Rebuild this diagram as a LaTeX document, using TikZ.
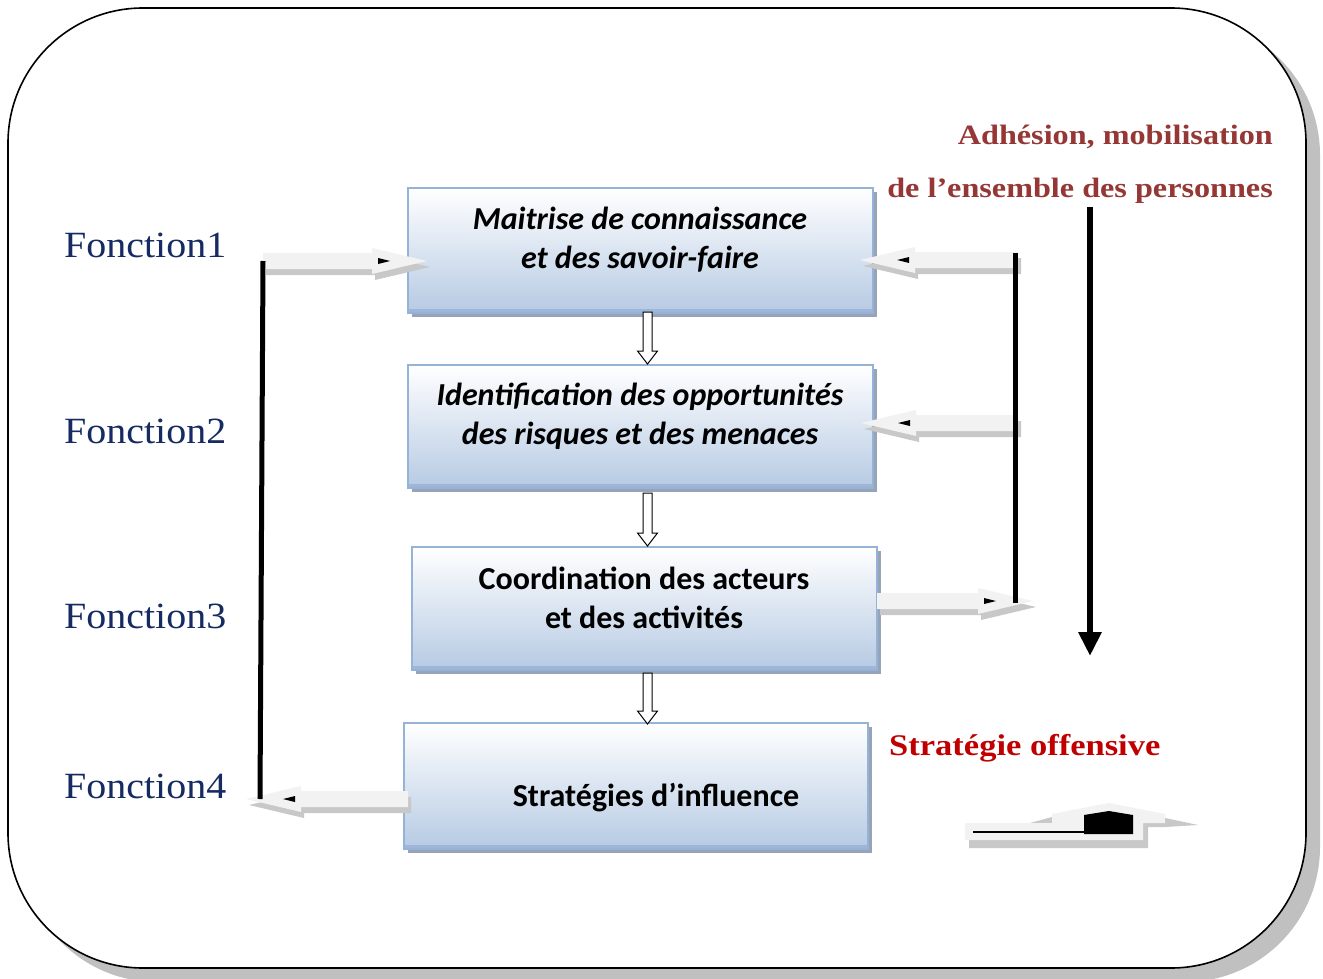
\documentclass[tikz,border=0pt]{standalone}
\usepackage{fontspec}
\setmainfont{Liberation Serif}
\newfontfamily\labelfont[FakeStretch=1.08]{Liberation Serif}
\newfontfamily\redfont[FakeStretch=1.15]{Liberation Serif}
\newfontfamily\boxfont{Carlito}
\usetikzlibrary{arrows.meta,calc,shadows}

\definecolor{framegray}{HTML}{C0C0C0}
\definecolor{fnblue}{HTML}{152B62}
\definecolor{adhred}{HTML}{953735}
\definecolor{offred}{HTML}{C00000}
\definecolor{boxedge}{HTML}{95B3D7}
\definecolor{boxbot}{HTML}{B6CAE3}
\definecolor{boxstrip}{HTML}{9DB6D9}
\definecolor{boxshadow}{HTML}{97A3B6}
\definecolor{arrowfill}{HTML}{F2F2F2}
\definecolor{arrowshadow}{HTML}{C8C8C8}

% grey 3D block arrow: #1 tail, #2 tip, #3 direction (1 right, -1 left), #4 style, #5/#6 offset
\newcommand\blkshape[6]{%
  \path[#4] let \p1=(#1), \p2=(#2) in
    ({\x1+#5},{\y1+8pt+#6}) -- ({\x2-#3*55pt+#5},{\y1+8pt+#6}) --
    ({\x2-#3*55pt+#5},{\y1+13pt+#6}) -- ({\x2+#5},{\y1+#6}) --
    ({\x2-#3*55pt+#5},{\y1-13pt+#6}) -- ({\x2-#3*55pt+#5},{\y1-8pt+#6}) --
    ({\x1+#5},{\y1-8pt+#6}) -- cycle;}
\newcommand\blkarrow[3]{%
  \blkshape{#1}{#2}{#3}{fill=arrowshadow}{3pt}{-6pt}%
  \blkshape{#1}{#2}{#3}{fill=arrowfill}{0pt}{0pt}%
  \fill let \p1=(#1), \p2=(#2) in
    ({\x2-#3*37pt},{\y1}) -- ({\x2-#3*49pt},{\y1+3pt}) -- ({\x2-#3*49pt},{\y1-3pt}) -- cycle;}
% hollow downward arrow between two boxes
\newcommand\hollowdown[2]{%
  \draw[line width=1pt, fill=white] let \p1=(#1), \p2=(#2) in
    ({\x1-4.5pt},{\y1}) -- ({\x1+4.5pt},{\y1}) -- ({\x1+4.5pt},{\y2+13pt}) --
    ({\x1+10pt},{\y2+13pt}) -- ({\x2},{\y2}) -- ({\x1-10pt},{\y2+13pt}) --
    ({\x1-4.5pt},{\y2+13pt}) -- cycle;}

\tikzset{
  fbox/.style={draw=boxedge, line width=1.6pt, top color=white, bottom color=boxbot,
    minimum width=465pt, inner sep=0pt,
    drop shadow={shadow xshift=4pt, shadow yshift=-4pt, fill=boxshadow, opacity=1},
    path picture={\fill[boxstrip] (path picture bounding box.south west) rectangle
      ([yshift=4pt]path picture bounding box.south east);}},
  boxtxt/.style={font=\boxfont\bfseries\fontsize{32}{39}\selectfont, align=center, inner sep=0pt},
  fnlabel/.style={font=\labelfont\fontsize{37}{40}\selectfont, text=fnblue, inner sep=0pt, anchor=base west},
  redtxt/.style={font=\redfont\bfseries\fontsize{28}{32}\selectfont, text=adhred, inner sep=0pt},
  blackline/.style={line width=5pt},
}

\begin{document}
\begin{tikzpicture}[x=1pt,y=-1pt]
\useasboundingbox (0,0) rectangle (1323,979);

% rounded frame with its shadow
\fill[framegray, rounded corners=135pt] (22,20) rectangle (1320,982);
\draw[line width=1.6pt, fill=white, rounded corners=135pt] (8,8) rectangle (1306,968);

% function boxes
\node[fbox, minimum height=125pt] (b1) at (640.5,250.5) {};
\node[fbox, minimum height=123pt] (b2) at (640.5,426.5) {};
\node[fbox, minimum height=123pt] (b3) at (644.5,608.5) {};
\node[fbox, minimum height=126pt, minimum width=464pt] (b4) at (636,786) {};

\node[boxtxt] (t1) at (640,240) {\itshape Maitrise de connaissance\\\itshape et des savoir-faire};
\node[boxtxt] (t2) at (640,416) {\itshape Identification des opportunités\\\itshape des risques et des menaces};
\node[boxtxt] (t3) at (644,598) {Coordination des acteurs\\et des activités};
\node[boxtxt, anchor=base] (t4) at (656,806) {Stratégies d’influence};

% hollow arrows linking the boxes
\coordinate (h1a) at (647.5,312); \coordinate (h1b) at (647.5,364);
\coordinate (h2a) at (647.5,493); \coordinate (h2b) at (647.5,546);
\coordinate (h3a) at (647.5,673); \coordinate (h3b) at (647.5,724);
\hollowdown{h1a}{h1b}
\hollowdown{h2a}{h2b}
\hollowdown{h3a}{h3b}

% feedback loops
\coordinate (lt) at (263,261);  \coordinate (lb) at (260,799);
\coordinate (rt) at (1015,253); \coordinate (rb) at (1015,603);
\coordinate (a1s) at (263,261);  \coordinate (a1e) at (427,261);
\coordinate (a2s) at (1018,260); \coordinate (a2e) at (860,260);
\coordinate (a3s) at (1018,423); \coordinate (a3e) at (861,423);
\coordinate (a4s) at (877,601);  \coordinate (a4e) at (1033,601);
\coordinate (a5s) at (408,799);  \coordinate (a5e) at (246,799);
\blkarrow{a1s}{a1e}{1}
\blkarrow{a2s}{a2e}{-1}
\blkarrow{a3s}{a3e}{-1}
\blkarrow{a4s}{a4e}{1}
\blkarrow{a5s}{a5e}{-1}
\draw[blackline] (lt) -- (lb);
\draw[blackline] (rt) -- (rb);

% labels
\node[fnlabel] (f1) at (64,257) {Fonction1};
\node[fnlabel] (f2) at (64,443) {Fonction2};
\node[fnlabel] (f3) at (64,628) {Fonction3};
\node[fnlabel] (f4) at (64,798) {Fonction4};

\node[redtxt, anchor=base east] (r1) at (1273,145) {Adhésion, mobilisation};
\node[redtxt, anchor=base east] (r2) at (1273,197) {de l’ensemble des personnes};
\node[redtxt, anchor=base west, text=offred, font=\redfont\bfseries\fontsize{30}{34}\selectfont] (r3) at (889,755) {Stratégie offensive};

% downward arrow
\coordinate (bt) at (1090,207); \coordinate (bb) at (1090,656);
\draw[line width=6pt, -{Triangle[length=24pt,width=22pt]}] (bt) -- (bb);

% small offensive symbol
\fill[arrowshadow] (1030,823) -- (1052,817) -- (1109,806) -- (1198,825) -- (1165,827)
  -- (1148,827) -- (1148,848) -- (969,848) -- (969,830) -- cycle;
\fill[arrowfill] (965,823) -- (1052,823) -- (1052,814) -- (1109,803) -- (1165,814)
  -- (1165,823) -- (1143,823) -- (1143,840) -- (965,840) -- cycle;
\draw[line width=2.5pt] (973,832) -- (1085,832);
\fill (1084,834) -- (1084,815) -- (1109,811) -- (1133,815) -- (1133,834) -- cycle;
\end{tikzpicture}
\end{document}
